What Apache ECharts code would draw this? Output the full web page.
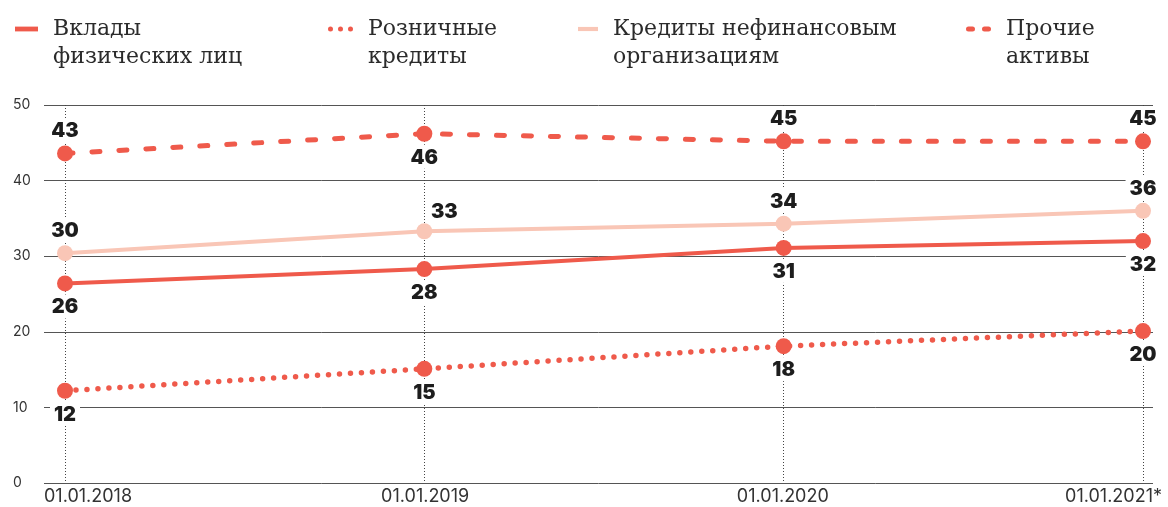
<!DOCTYPE html>
<html><head><meta charset="utf-8">
<script src="https://cdn.jsdelivr.net/npm/echarts@6/dist/echarts.min.js"></script>
<style>html,body{margin:0;padding:0;background:#fff}#c{width:1168px;height:507px}</style>
</head><body><div id="c"></div>
<script>
const categories = ['01.01.2018', '01.01.2019', '01.01.2020', '01.01.2021*'];
const seriesNames = ['Вклады\nфизических лиц', 'Розничные\nкредиты', 'Кредиты нефинансовым\nорганизациям', 'Прочие\nактивы'];
const deposits = [26.4, 28.3, 31.1, 32.0];
const depositsLabels = ['26', '28', '31', '32'];
const retail = [12.2, 15.1, 18.1, 20.1];
const retailLabels = ['12', '15', '18', '20'];
const corporate = [30.4, 33.3, 34.3, 36.0];
const corporateLabels = ['30', '33', '34', '36'];
const other = [43.6, 46.2, 45.2, 45.2];
const otherLabels = ['43', '46', '45', '45'];
const yMin = 0, yMax = 50, yStep = 10;

const RED = '#ef5a4b', PINK = '#f9c6b6', INK = '#1d1d1d';
const labelBase = {
  show: true, fontFamily: 'Inter', fontWeight: 900, fontSize: 20, color: INK,
  backgroundColor: '#fff', padding: [3, 4, 1, 4], distance: 3
};
function mkData(vals, positions, offsets) {
  return vals.map((v, i) => ({
    value: v,
    label: Object.assign({ position: positions[i] }, offsets && offsets[i] ? { offset: offsets[i] } : {})
  }));
}
function fmt(labels) { return p => labels[p.dataIndex]; }

const legendText = { fontFamily: 'DejaVu Serif', fontSize: 22, color: '#2b2b2b', lineHeight: 28, padding: [0, 0, 0, 10] };
function mkLegend(name, left, icon, w) {
  return { data: [name], left: left, top: -13, icon: icon, itemWidth: w, itemHeight: 5, padding: 0,
    selectedMode: false, textStyle: legendText, formatter: n => ' \n' + n };
}
const iconBar = 'path://M0,0H24V5H0Z';
const iconDots = 'path://M2.5,0A2.5,2.5 0 1 1 2.5,5A2.5,2.5 0 1 1 2.5,0ZM12.5,0A2.5,2.5 0 1 1 12.5,5A2.5,2.5 0 1 1 12.5,0ZM22.5,0A2.5,2.5 0 1 1 22.5,5A2.5,2.5 0 1 1 22.5,0Z';
const iconDash = 'path://M2.5,0H6.5A2.5,2.5 0 0 1 6.5,5H2.5A2.5,2.5 0 0 1 2.5,0ZM18.5,0H22.5A2.5,2.5 0 0 1 22.5,5H18.5A2.5,2.5 0 0 1 18.5,0Z';

const axisFont = { fontFamily: 'Inter', color: '#333' };
const option = {
  animation: false,
  backgroundColor: '#fff',
  legend: [
    mkLegend(seriesNames[0], 15, iconBar, 23),
    mkLegend(seriesNames[1], 328, iconDots, 25),
    mkLegend(seriesNames[2], 578, iconBar, 20),
    mkLegend(seriesNames[3], 966, iconDash, 25)
  ],
  grid: [
    { left: 44, right: 15, top: 105, bottom: 24 },
    { left: 44, right: 6, top: 105, bottom: 24 },
    { left: 65, right: 25, top: 105, bottom: 24 }
  ],
  xAxis: [
    { gridIndex: 0, type: 'category', data: categories, boundaryGap: false, show: false },
    { gridIndex: 1, type: 'category', boundaryGap: false,
      data: categories.map((c, i) => i === 1 ? { value: c, textStyle: { padding: [0, 0, 0, 17] } }
                                   : i === 2 ? { value: c, textStyle: { padding: [0, 13, 0, 0] } } : c),
      axisLine: { show: false }, axisTick: { show: false }, splitLine: { show: false },
      axisLabel: Object.assign({ fontSize: 18, margin: 5, alignMinLabel: 'left', alignMaxLabel: 'right', interval: 0 }, axisFont) },
    { gridIndex: 2, type: 'category', data: categories, boundaryGap: false,
      axisLine: { show: false }, axisTick: { show: false }, axisLabel: { show: false },
      splitLine: { show: true, lineStyle: { type: [1, 2], color: '#444', width: 1 } } }
  ],
  yAxis: [
    { gridIndex: 0, type: 'value', min: yMin, max: yMax, interval: yStep,
      axisLine: { show: false }, axisTick: { show: false },
      axisLabel: Object.assign({ fontSize: 14, align: 'left', margin: 31 }, axisFont),
      splitLine: { lineStyle: { color: '#555', width: 1 } } },
    { gridIndex: 1, type: 'value', min: yMin, max: yMax, show: false, splitLine: { show: false } },
    { gridIndex: 2, type: 'value', min: yMin, max: yMax, show: false, splitLine: { show: false } }
  ],
  series: [
    { name: seriesNames[3], type: 'line', xAxisIndex: 2, yAxisIndex: 2,
      data: mkData(other, ['top', 'bottom', 'top', 'top']),
      symbol: 'circle', symbolSize: 16, itemStyle: { color: RED },
      lineStyle: { color: RED, width: 5, type: [8, 19], cap: 'round' },
      label: Object.assign({ formatter: fmt(otherLabels) }, labelBase) },
    { name: seriesNames[2], type: 'line', xAxisIndex: 2, yAxisIndex: 2,
      data: mkData(corporate, ['top', 'top', 'top', 'top'], [null, [20, 3], null, null]),
      symbol: 'circle', symbolSize: 16, itemStyle: { color: PINK },
      lineStyle: { color: PINK, width: 4 },
      label: Object.assign({ formatter: fmt(corporateLabels) }, labelBase) },
    { name: seriesNames[0], type: 'line', xAxisIndex: 2, yAxisIndex: 2,
      data: mkData(deposits, ['bottom', 'bottom', 'bottom', 'bottom']),
      symbol: 'circle', symbolSize: 16, itemStyle: { color: RED },
      lineStyle: { color: RED, width: 4 },
      label: Object.assign({ formatter: fmt(depositsLabels) }, labelBase) },
    { name: seriesNames[1], type: 'line', xAxisIndex: 2, yAxisIndex: 2,
      data: mkData(retail, ['bottom', 'bottom', 'bottom', 'bottom']),
      symbol: 'circle', symbolSize: 16, itemStyle: { color: RED },
      lineStyle: { color: RED, width: 5.5, type: [0, 11], cap: 'round' },
      label: Object.assign({ formatter: fmt(retailLabels) }, labelBase) }
  ]
};
const chart = echarts.init(document.getElementById('c'), null, { renderer: 'canvas' });
chart.setOption(option);
</script>
</body></html>
